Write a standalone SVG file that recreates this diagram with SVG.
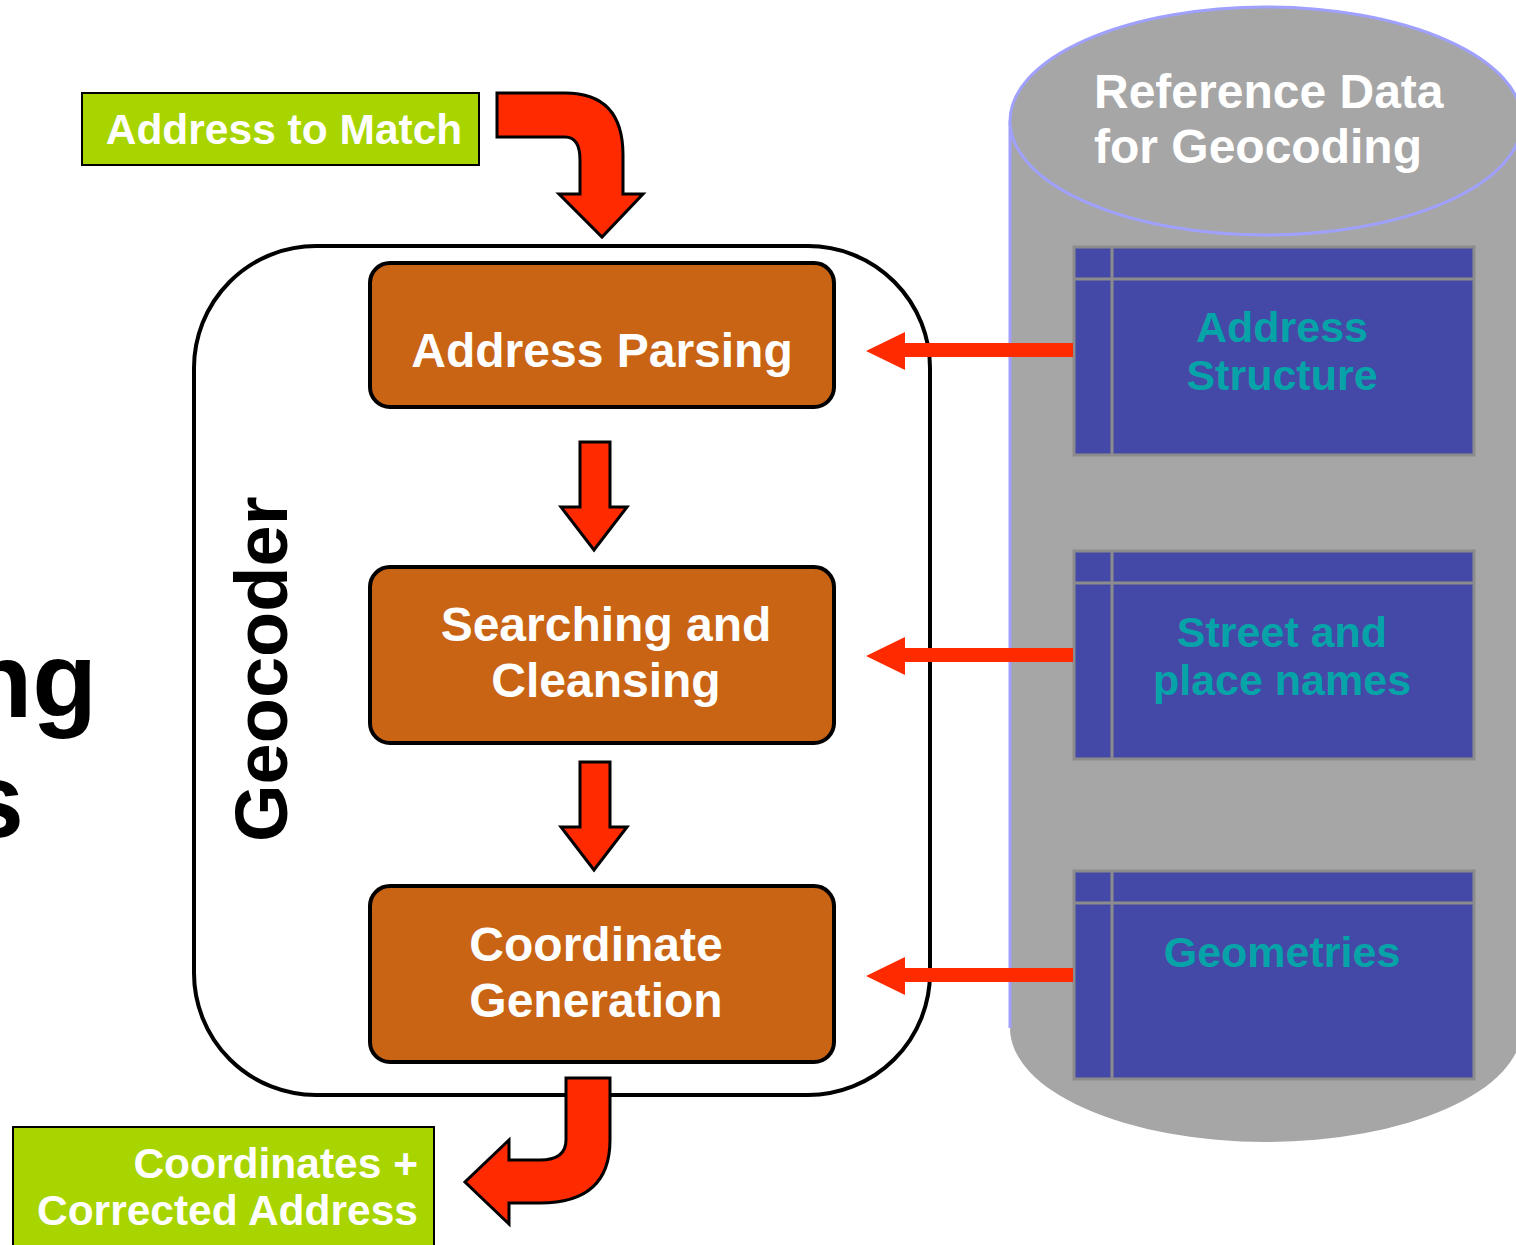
<svg xmlns="http://www.w3.org/2000/svg" width="1516" height="1245" viewBox="0 0 1516 1245">
<style>
text{font-family:"Liberation Sans",Arial,sans-serif;font-weight:bold}
.w{fill:#fff}
.proc{fill:#c86414;stroke:#000;stroke-width:4}
.green{fill:#a8d400;stroke:#000;stroke-width:2}
.tbl{fill:#4449a8;stroke:#8c8c8c;stroke-width:3}
.tl{stroke:#8c8c8c;stroke-width:3}
.tt{fill:#06a3a8;font-size:43px;text-anchor:middle}
.red{fill:#ff2a00}
.redS{fill:#ff2a00;stroke:#000;stroke-width:3;stroke-linejoin:miter}
</style>
<rect width="1516" height="1245" fill="#fff"/>
<g id="title-fragment">
<text x="97" y="717" font-size="106" text-anchor="end" fill="#000">ng</text>
<text x="24" y="837" font-size="106" text-anchor="end" fill="#000">s</text>
</g>
<g id="reference-data">
<path d="M1010,121 L1010,1028 A256,114 0 0 0 1522,1028 L1522,121 Z" fill="#a6a6a6"/>
<line x1="1010" y1="121" x2="1010" y2="1028" stroke="#a0a0ff" stroke-width="3"/>
<ellipse cx="1266" cy="121" rx="256" ry="114" fill="#a6a6a6" stroke="#a0a0ff" stroke-width="3"/>
<text x="1094" y="108" font-size="48" class="w">Reference Data</text>
<text x="1094" y="163" font-size="48" class="w">for Geocoding</text>
</g>
<g id="table-address-structure">
<rect class="tbl" x="1074" y="247" width="400" height="208"/>
<line class="tl" x1="1074" y1="279" x2="1474" y2="279"/>
<line class="tl" x1="1112" y1="247" x2="1112" y2="455"/>
<text class="tt" x="1282" y="342">Address</text>
<text class="tt" x="1282" y="390">Structure</text>
</g>
<g id="table-street-names">
<rect class="tbl" x="1074" y="551" width="400" height="208"/>
<line class="tl" x1="1074" y1="583" x2="1474" y2="583"/>
<line class="tl" x1="1112" y1="551" x2="1112" y2="759"/>
<text class="tt" x="1282" y="647">Street and</text>
<text class="tt" x="1282" y="695">place names</text>
</g>
<g id="table-geometries">
<rect class="tbl" x="1074" y="871" width="400" height="208"/>
<line class="tl" x1="1074" y1="903" x2="1474" y2="903"/>
<line class="tl" x1="1112" y1="871" x2="1112" y2="1079"/>
<text class="tt" x="1282" y="967">Geometries</text>
</g>
<g id="geocoder">
<rect x="194" y="246" width="736" height="849" rx="122" ry="122" fill="none" stroke="#000" stroke-width="4"/>
<text transform="translate(287,842) rotate(-90)" font-size="74" fill="#000">Geocoder</text>
</g>
<g id="address-parsing">
<rect class="proc" x="370" y="263" width="464" height="144" rx="20"/>
<text class="w" x="602" y="367" font-size="48" text-anchor="middle">Address Parsing</text>
</g>
<g id="searching-cleansing">
<rect class="proc" x="370" y="567" width="464" height="176" rx="20"/>
<text class="w" x="606" y="641" font-size="48" text-anchor="middle">Searching and</text>
<text class="w" x="606" y="697" font-size="48" text-anchor="middle">Cleansing</text>
</g>
<g id="coordinate-generation">
<rect class="proc" x="370" y="886" width="464" height="176" rx="20"/>
<text class="w" x="596" y="961" font-size="48" text-anchor="middle">Coordinate</text>
<text class="w" x="596" y="1017" font-size="48" text-anchor="middle">Generation</text>
</g>
<g id="address-to-match">
<rect class="green" x="82" y="93" width="397" height="72"/>
<text class="w" x="284" y="144" font-size="42.5" text-anchor="middle">Address to Match</text>
</g>
<g id="output">
<rect class="green" x="13" y="1127" width="421" height="130"/>
<text class="w" x="418" y="1178" font-size="42.5" text-anchor="end">Coordinates +</text>
<text class="w" x="418" y="1225" font-size="42.5" text-anchor="end">Corrected Address</text>
</g>
<g id="connectors">
<path class="redS" d="M497,93 L565,93 Q623,93 623,155 L623,194 L643,194 L602,237 L559,194 L580,194 L580,160 Q580,137 565,137 L497,137 Z"/>
<path class="redS" d="M580,442 L610,442 L610,507 L627,507 L594,550 L561,507 L580,507 Z"/>
<path class="redS" d="M580,762 L610,762 L610,827 L627,827 L594,870 L561,827 L580,827 Z"/>
<path class="redS" d="M566,1078 L610,1078 L610,1140 Q610,1203 540,1203 L509,1203 L509,1224 L465,1182 L509,1140 L509,1160 L540,1160 Q566,1160 566,1140 Z"/>
<path class="red" d="M1073,343 L905,343 L905,332 L866,351 L905,370 L905,357 L1073,357 Z"/>
<path class="red" d="M1073,648 L905,648 L905,637 L866,656 L905,675 L905,662 L1073,662 Z"/>
<path class="red" d="M1073,968 L905,968 L905,957 L866,976 L905,995 L905,982 L1073,982 Z"/>
</g>
</svg>
